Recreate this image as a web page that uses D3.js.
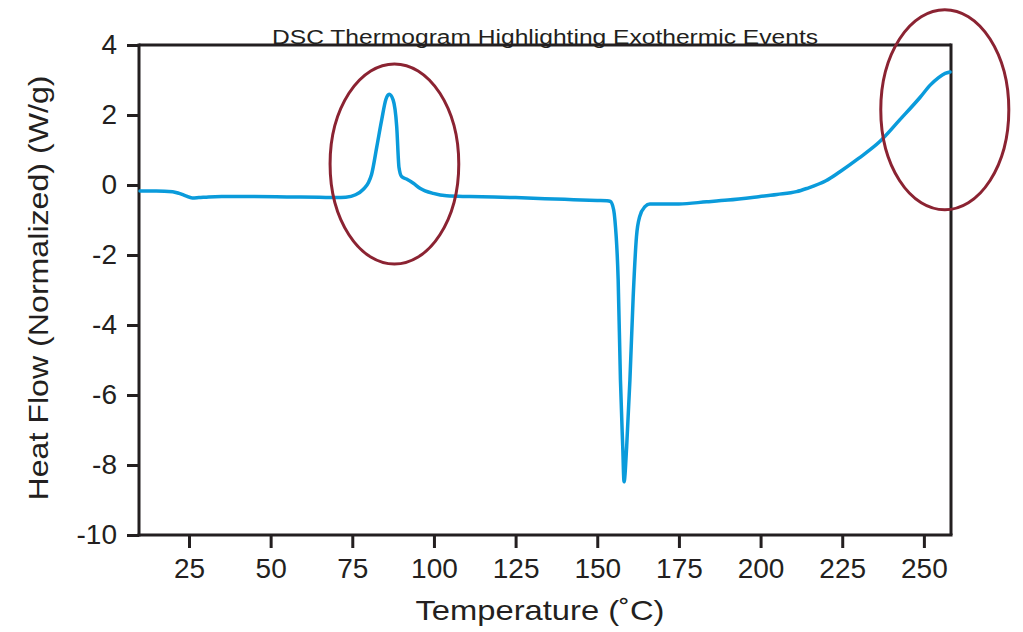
<!DOCTYPE html>
<html>
<head>
<meta charset="utf-8">
<script src="https://cdn.jsdelivr.net/npm/d3@7"></script>
<style>
  html, body { margin: 0; padding: 0; background: #fff; }
  svg { display: block; }
  text { font-family: "Liberation Sans", "DejaVu Sans", sans-serif; fill: #231f20; }
</style>
</head>
<body>
<svg id="chart" width="1023" height="632"></svg>
<script>
// ---- data ----
const temperature = [10, 15, 20, 22, 24, 26, 28, 31, 35, 45, 55, 65, 70, 73, 76, 78.4, 80, 80.9, 82.5, 84, 85.3, 86.3, 87.5, 88.6, 89.3, 90.1, 91.6, 93.7, 95.7, 99.8, 103.9, 111, 125, 140, 150, 153, 154, 155, 155.4, 156.4, 157.1, 157.8, 158.2, 159, 160, 161, 162, 163, 164.6, 166.1, 175, 183.5, 190, 198.8, 205, 211, 214.1, 220, 224.3, 230, 236.5, 242.6, 248.8, 252, 254.5, 256.5, 258];
const heatFlow = [-0.17, -0.17, -0.19, -0.24, -0.31, -0.37, -0.36, -0.34, -0.33, -0.33, -0.34, -0.35, -0.36, -0.35, -0.28, -0.12, 0.08, 0.3, 1.09, 1.86, 2.45, 2.59, 2.43, 1.67, 0.5, 0.24, 0.17, 0.05, -0.09, -0.24, -0.31, -0.33, -0.36, -0.41, -0.44, -0.45, -0.47, -0.7, -1.0, -2.71, -5.57, -7.48, -8.48, -7.48, -5.57, -3.19, -1.48, -0.9, -0.62, -0.54, -0.54, -0.48, -0.43, -0.34, -0.27, -0.19, -0.1, 0.12, 0.38, 0.76, 1.24, 1.86, 2.5, 2.86, 3.07, 3.19, 3.23];
const xTicks = [25, 50, 75, 100, 125, 150, 175, 200, 225, 250];
const yTicks = [4, 2, 0, -2, -4, -6, -8, -10];
// highlight ellipses: centre (temperature, heat flow) and radii in data units
const highlightT = [87.9, 256.4];
const highlightHF = [0.6, 2.15];
const highlightRT = [19.7, 19.6];
const highlightRHF = [2.86, 2.86];

const titleText = "DSC Thermogram Highlighting Exothermic Events";
const xLabel = "Temperature (\u02DAC)";
const yLabel = "Heat Flow (Normalized) (W/g)";

// ---- layout ----
const svg = d3.select("#chart");
const mLeft = 139, mRight = 951, mTop = 45, mBottom = 535;
const x = d3.scaleLinear().domain([9.7, 258.3]).range([mLeft, mRight]);
const y = d3.scaleLinear().domain([-10, 4]).range([mBottom, mTop]);
const ink = "#231f20";

// frame top/right
svg.append("line").attr("x1", mLeft).attr("x2", mRight).attr("y1", mTop).attr("y2", mTop)
  .attr("stroke", ink).attr("stroke-width", 3);
svg.append("line").attr("x1", mRight).attr("x2", mRight).attr("y1", mTop - 1.5).attr("y2", mBottom)
  .attr("stroke", ink).attr("stroke-width", 3);

// axes
const fmt = d => String(d);
const gx = svg.append("g").attr("transform", `translate(0,${mBottom})`)
  .call(d3.axisBottom(x).tickValues(xTicks).tickSize(13).tickPadding(10).tickFormat(fmt));
const gy = svg.append("g").attr("transform", `translate(${mLeft},0)`)
  .call(d3.axisLeft(y).tickValues(yTicks).tickSize(12).tickPadding(10).tickFormat(fmt));
[gx, gy].forEach(g => {
  g.select(".domain").attr("stroke", ink).attr("stroke-width", 3);
  g.selectAll(".tick line").attr("stroke", ink).attr("stroke-width", 3);
  g.selectAll(".tick text").attr("font-size", 28).attr("fill", ink)
    .style("font-family", '"Liberation Sans", sans-serif');
});
gx.select(".domain").attr("d", `M${mLeft - 1.5},0H${mRight + 1.5}`);
gy.select(".domain").attr("d", `M0,${mTop - 1.5}V${mBottom + 1.5}`);

// curve
const pts = temperature.map((t, i) => [t, heatFlow[i]]);
svg.append("path").datum(pts)
  .attr("fill", "none").attr("stroke", "#0a9bdb").attr("stroke-width", 3.5)
  .attr("stroke-linejoin", "round").attr("stroke-linecap", "round")
  .attr("d", d3.line().x(d => x(d[0])).y(d => y(d[1])).curve(d3.curveMonotoneX));

// highlight ellipses
highlightT.forEach((t, i) => {
  svg.append("ellipse")
    .attr("cx", x(t)).attr("cy", y(highlightHF[i]))
    .attr("rx", x(t + highlightRT[i]) - x(t))
    .attr("ry", y(0) - y(highlightRHF[i]))
    .attr("fill", "none").attr("stroke", "#8b2332").attr("stroke-width", 3);
});

// title
svg.append("text").attr("x", 545).attr("y", 44).attr("text-anchor", "middle")
  .attr("font-size", 20).attr("textLength", 546).attr("lengthAdjust", "spacingAndGlyphs")
  .text(titleText);

// axis labels
svg.append("text").attr("x", 540).attr("y", 620).attr("text-anchor", "middle")
  .attr("font-size", 28).attr("textLength", 249).attr("lengthAdjust", "spacingAndGlyphs")
  .text(xLabel);
svg.append("text").attr("transform", "translate(48,288) rotate(-90)").attr("text-anchor", "middle")
  .attr("font-size", 28).attr("textLength", 425).attr("lengthAdjust", "spacingAndGlyphs")
  .text(yLabel);
</script>
</body>
</html>
